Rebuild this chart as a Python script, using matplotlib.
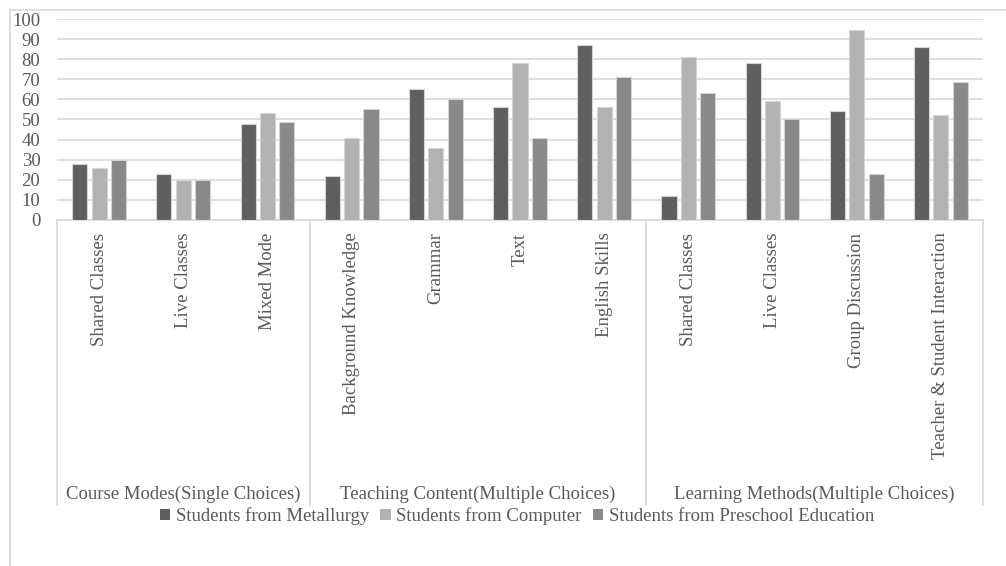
import matplotlib
matplotlib.use("Agg")
import matplotlib.pyplot as plt
from matplotlib.patches import Patch
from matplotlib.lines import Line2D
import numpy as np

categories = ["Shared Classes", "Live Classes", "Mixed Mode",
              "Background Knowledge", "Grammar", "Text", "English Skills",
              "Shared Classes", "Live Classes", "Group Discussion",
              "Teacher & Student Interaction"]
groups = ["Course Modes(Single Choices)", "Teaching Content(Multiple Choices)",
          "Learning Methods(Multiple Choices)"]
group_sizes = [3, 4, 4]
series_names = ["Students from Metallurgy", "Students from Computer",
                "Students from Preschool Education"]
metallurgy = [28, 23, 48, 22, 65, 56, 87, 12, 78, 54, 86]
computer = [26, 20, 53, 41, 36, 78, 56, 81, 59, 94.5, 52]
preschool = [30, 20, 49, 55, 60, 41, 71, 63, 50, 23, 68.5]
yticks = [0, 10, 20, 30, 40, 50, 60, 70, 80, 90, 100]

colors = ["#5f5f5f", "#b2b2b2", "#898989"]
grid_c = "#d9d9d9"

plt.rcParams['font.family'] = ['Liberation Serif', 'DejaVu Serif']

fig = plt.figure(figsize=(10.06, 5.66), dpi=100)
ax = fig.add_axes([57/1006, (566-220)/566, 926/1006, 201/566])

x = np.arange(len(categories))
width = 0.18
offsets = [-0.23, 0.0, 0.23]
for vals, c, off, name in zip([metallurgy, computer, preschool], colors, offsets, series_names):
    ax.bar(x + off, vals, width, color=c, edgecolor="#d4d4d4", linewidth=0.8,
           label=name, zorder=3)

ax.set_xlim(-0.5, len(categories) - 0.5)
ax.set_ylim(0, 100)
ax.set_yticks(yticks)
ax.set_yticklabels([str(v) for v in yticks], fontsize=13.5, color="#595959")
ax.yaxis.grid(True, color=grid_c, linewidth=1.2, zorder=0)
ax.tick_params(axis='y', length=0, pad=12)
for s in ["top", "right", "left"]:
    ax.spines[s].set_visible(False)
ax.spines["bottom"].set_color(grid_c)
ax.spines["bottom"].set_linewidth(1.2)

ax.set_xticks(x)
ax.set_xticklabels(categories, rotation=90, va='top', ha='center',
                   fontsize=13.5, color="#595959")
ax.tick_params(axis='x', length=0, pad=9)

# group separators and labels
trans = ax.get_xaxis_transform()
bounds = np.concatenate([[0], np.cumsum(group_sizes)]) - 0.5
for b in bounds:
    ax.add_line(Line2D([b, b], [0, -1.418], transform=trans, color=grid_c,
                       linewidth=1.2, clip_on=False))
for i, g in enumerate(groups):
    cx = (bounds[i] + bounds[i + 1]) / 2
    ax.text(cx, -1.363, g, transform=trans, ha='center', va='center',
            fontsize=13.5, color="#595959")

handles = [Patch(facecolor=c, edgecolor='none') for c in colors]
fig.legend(handles, series_names, loc='center', bbox_to_anchor=(517/1006, 1 - 516/566),
           ncol=3, frameon=False, fontsize=13.5, handlelength=0.55, handleheight=0.55,
           handletextpad=0.3, columnspacing=0.6, labelcolor="#595959")

# outer chart border
fig.add_artist(Line2D([10/1006, 1], [1 - 10/566, 1 - 10/566], transform=fig.transFigure,
                      color=grid_c, linewidth=1.2))
fig.add_artist(Line2D([10/1006, 10/1006], [0, 1 - 10/566], transform=fig.transFigure,
                      color=grid_c, linewidth=1.2))

fig.savefig("out.png", dpi=100)
